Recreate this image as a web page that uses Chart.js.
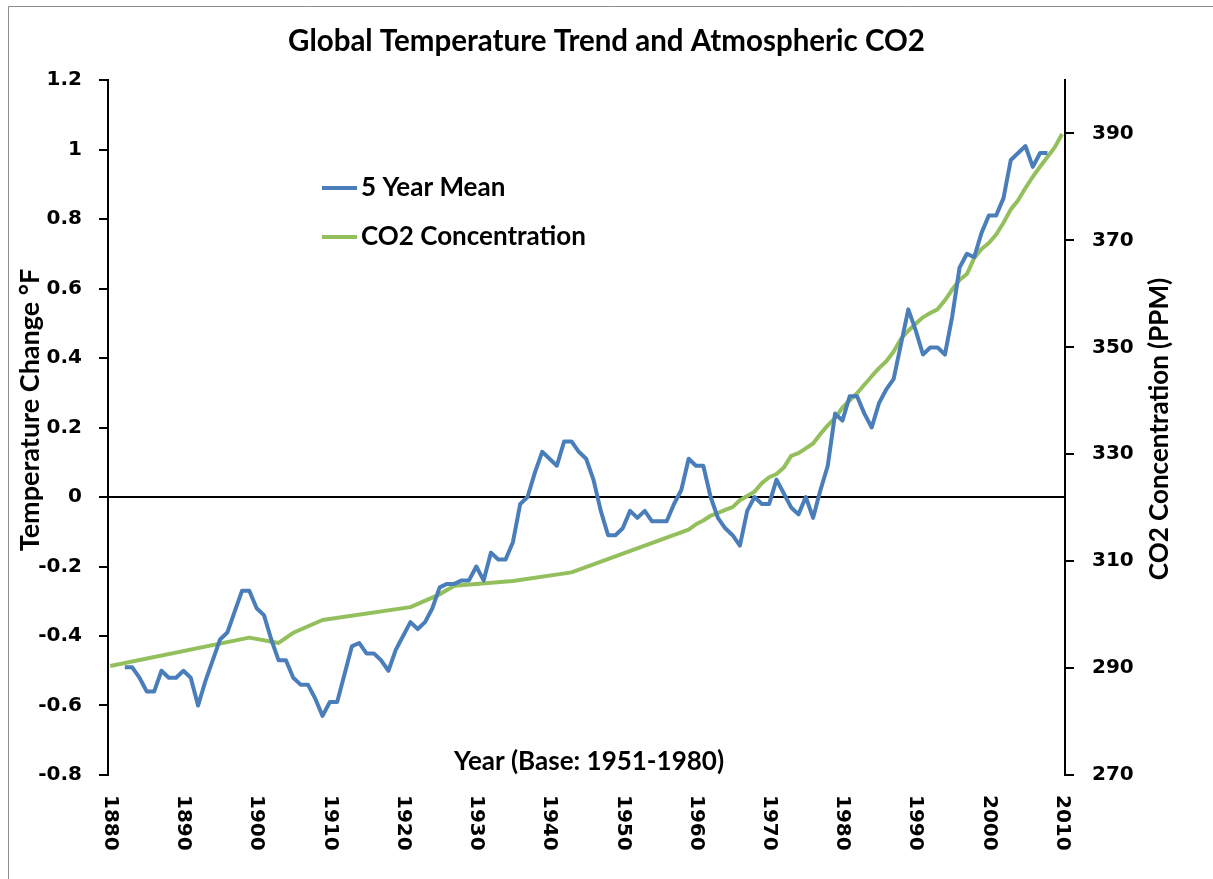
<!DOCTYPE html>
<html>
<head>
<meta charset="utf-8">
<script src="https://cdn.jsdelivr.net/npm/chart.js@4.4.0/dist/chart.umd.min.js"></script>
<style>
	html, body { margin: 0; padding: 0; background: #fff; }
</style>
</head>
<body>
<canvas id="main-chart" width="1213" height="879"></canvas>
<script>
// texts
const titleText = 'Global Temperature Trend and Atmospheric CO2';
const tempLabel = '5 Year Mean';
const co2Label = 'CO2 Concentration';
const xTitle = 'Year (Base: 1951-1980)';
const yTitle = 'Temperature Change °F';
const y2Title = 'CO2 Concentration (PPM)';

// tick labels
const xTicks = [1880, 1890, 1900, 1910, 1920, 1930, 1940, 1950, 1960, 1970, 1980, 1990, 2000, 2010];
const tempTicks = [-0.8, -0.6, -0.4, -0.2, 0, 0.2, 0.4, 0.6, 0.8, 1, 1.2];
const co2Ticks = [270, 290, 310, 330, 350, 370, 390];

// 5 year mean temperature change
const tempYears = [
	1882, 1883, 1884, 1885, 1886, 1887, 1888, 1889,
	1890, 1891, 1892, 1893, 1894, 1895, 1896, 1897, 1898, 1899,
	1900, 1901, 1902, 1903, 1904, 1905, 1906, 1907, 1908, 1909,
	1910, 1911, 1912, 1913, 1914, 1915, 1916, 1917, 1918, 1919,
	1920, 1921, 1922, 1923, 1924, 1925, 1926, 1927, 1928, 1929,
	1930, 1931, 1932, 1933, 1934, 1935, 1936, 1937, 1938, 1939,
	1940, 1941, 1942, 1943, 1944, 1945, 1946, 1947, 1948, 1949,
	1950, 1951, 1952, 1953, 1954, 1955, 1956, 1957, 1958, 1959,
	1960, 1961, 1962, 1963, 1964, 1965, 1966, 1967, 1968, 1969,
	1970, 1971, 1972, 1973, 1974, 1975, 1976, 1977, 1978, 1979,
	1980, 1981, 1982, 1983, 1984, 1985, 1986, 1987, 1988, 1989,
	1990, 1991, 1992, 1993, 1994, 1995, 1996, 1997, 1998, 1999,
	2000, 2001, 2002, 2003, 2004, 2005, 2006, 2007, 2008
];
const tempValues = [
	-0.49, -0.49, -0.52, -0.56, -0.56, -0.50, -0.52, -0.52,
	-0.50, -0.52, -0.60, -0.53, -0.47, -0.41, -0.39, -0.33, -0.27, -0.27,
	-0.32, -0.34, -0.41, -0.47, -0.47, -0.52, -0.54, -0.54, -0.58, -0.63,
	-0.59, -0.59, -0.51, -0.43, -0.42, -0.45, -0.45, -0.47, -0.50, -0.44,
	-0.40, -0.36, -0.38, -0.36, -0.32, -0.26, -0.25, -0.25, -0.24, -0.24,
	-0.20, -0.24, -0.16, -0.18, -0.18, -0.13, -0.02, 0.00, 0.07, 0.13,
	0.11, 0.09, 0.16, 0.16, 0.13, 0.11, 0.05, -0.04, -0.11, -0.11,
	-0.09, -0.04, -0.06, -0.04, -0.07, -0.07, -0.07, -0.02, 0.02, 0.11,
	0.09, 0.09, 0.00, -0.06, -0.09, -0.11, -0.14, -0.04, 0.00, -0.02,
	-0.02, 0.05, 0.01, -0.03, -0.05, 0.00, -0.06, 0.02, 0.09, 0.24,
	0.22, 0.29, 0.29, 0.24, 0.20, 0.27, 0.31, 0.34, 0.44, 0.54,
	0.48, 0.41, 0.43, 0.43, 0.41, 0.52, 0.66, 0.70, 0.69, 0.76,
	0.81, 0.81, 0.86, 0.97, 0.99, 1.01, 0.95, 0.99, 0.99
];

// CO2 concentration (ppm)
const co2Years = [
	1880, 1899, 1903, 1905, 1909, 1921, 1925, 1927, 1935, 1943,
	1959, 1960, 1961, 1962, 1963, 1964, 1965, 1966, 1967, 1968, 1969,
	1970, 1971, 1972, 1973, 1974, 1975, 1976, 1977, 1978, 1979,
	1980, 1981, 1982, 1983, 1984, 1985, 1986, 1987, 1988, 1989,
	1990, 1991, 1992, 1993, 1994, 1995, 1996, 1997, 1998, 1999,
	2000, 2001, 2002, 2003, 2004, 2005, 2006, 2007, 2008, 2009, 2010
];
const co2Values = [
	290.4, 295.7, 294.7, 296.6, 299.0, 301.4, 303.8, 305.4, 306.3, 307.9,
	315.9, 316.9, 317.6, 318.5, 319.0, 319.6, 320.1, 321.4, 322.2, 323.0, 324.6,
	325.7, 326.3, 327.5, 329.7, 330.2, 331.1, 332.0, 333.8, 335.4, 336.8,
	338.7, 340.1, 341.4, 343.0, 344.6, 346.1, 347.4, 349.2, 351.6, 353.1,
	354.4, 355.6, 356.4, 357.1, 358.8, 360.8, 362.6, 363.7, 366.7, 368.4,
	369.5, 371.1, 373.3, 375.8, 377.5, 379.8, 381.9, 383.8, 385.6, 387.4, 389.9
];

const blue = '#4a7ebb';
const green = '#93bf5c';
const calibri = '"Lato", "Open Sans", sans-serif';

Chart.defaults.font.family = '"DejaVu Sans", sans-serif';
Chart.defaults.color = '#000';

// legend, rotated year labels and titles that chart.js can't place like excel does
const extras = {
	id: 'extras',
	afterDraw(chart) {
		const ctx = chart.ctx;
		const area = chart.chartArea;
		const xs = chart.scales.x;
		ctx.save();

		// outer frame
		ctx.strokeStyle = '#8c8c8c';
		ctx.lineWidth = 1;
		ctx.beginPath();
		ctx.moveTo(8.5, 879);
		ctx.lineTo(8.5, 6.5);
		ctx.lineTo(1213, 6.5);
		ctx.stroke();

		ctx.fillStyle = '#000';

		// year labels, reading downwards
		ctx.font = 'bold 20px "DejaVu Sans"';
		ctx.textAlign = 'left';
		ctx.textBaseline = 'middle';
		xTicks.forEach(v => {
			ctx.save();
			ctx.translate(xs.getPixelForValue(v), area.bottom + 20);
			ctx.rotate(Math.PI / 2);
			ctx.fillText(String(v), 0, 0);
			ctx.restore();
		});

		ctx.font = 'bold 26px ' + calibri;
		ctx.textAlign = 'center';
		ctx.fillText(xTitle, 589, area.bottom - 13);

		ctx.save();
		ctx.font = 'bold 27px ' + calibri;
		ctx.translate(30, 410);
		ctx.rotate(-Math.PI / 2);
		ctx.fillText(yTitle, 0, 0);
		ctx.restore();

		ctx.save();
		ctx.translate(1160, 429);
		ctx.rotate(-Math.PI / 2);
		ctx.fillText(y2Title, 0, 0);
		ctx.restore();

		// legend
		const items = [[tempLabel, blue, 188], [co2Label, green, 237]];
		ctx.textAlign = 'left';
		items.forEach(([label, color, y]) => {
			ctx.strokeStyle = color;
			ctx.lineWidth = 4;
			ctx.beginPath();
			ctx.moveTo(322, y);
			ctx.lineTo(357, y);
			ctx.stroke();
			ctx.fillText(label, 361, y);
		});

		ctx.restore();
	}
};

var ctx = document.getElementById('main-chart');
new Chart(ctx, {
	type: 'line',
	data: {
		datasets: [
			{
				label: tempLabel,
				data: tempYears.map((yr, i) => ({ x: yr, y: tempValues[i] })),
				yAxisID: 'y',
				borderColor: blue,
				borderWidth: 4,
				borderJoinStyle: 'round',
				pointRadius: 0,
				tension: 0
			},
			{
				label: co2Label,
				data: co2Years.map((yr, i) => ({ x: yr, y: co2Values[i] })),
				yAxisID: 'y2',
				borderColor: green,
				borderWidth: 4,
				borderJoinStyle: 'round',
				pointRadius: 0,
				tension: 0
			}
		]
	},
	options: {
		responsive: false,
		animation: false,
		devicePixelRatio: 1,
		layout: { padding: 0 },
		plugins: {
			legend: { display: false },
			tooltip: { enabled: false },
			title: {
				display: true,
				text: titleText,
				color: '#000',
				font: { family: calibri, size: 29.5, weight: 'bold', lineHeight: 1.2 },
				padding: { top: 24, bottom: 20.6 }
			}
		},
		scales: {
			x: {
				type: 'linear',
				min: 1879.7,
				max: 2010.4,
				afterBuildTicks: s => { s.ticks = xTicks.map(v => ({ value: v })); },
				afterFit: s => { s.height = 104; },
				grid: { display: false },
				border: { display: false },
				ticks: { display: false }
			},
			y: {
				position: 'left',
				min: -0.8,
				max: 1.2,
				afterBuildTicks: s => { s.ticks = tempTicks.map(v => ({ value: v })); },
				afterFit: s => { s.width = 108; },
				border: { display: true, color: '#000', width: 2 },
				grid: {
					color: c => (c.tick && c.tick.value === 0) ? '#000' : 'rgba(0,0,0,0)',
					lineWidth: 2,
					tickColor: '#000',
					tickLength: 9
				},
				ticks: {
					font: { size: 20, weight: 'bold' },
					color: '#000',
					padding: 17,
					callback: v => String(v)
				}
			},
			y2: {
				position: 'right',
				min: 270,
				max: 400,
				afterBuildTicks: s => { s.ticks = co2Ticks.map(v => ({ value: v })); },
				afterFit: s => { s.width = 148; },
				border: { display: true, color: '#000', width: 2 },
				grid: {
					drawOnChartArea: false,
					lineWidth: 2,
					tickColor: '#000',
					tickLength: 9
				},
				ticks: {
					font: { size: 20, weight: 'bold' },
					color: '#000',
					padding: 18,
					callback: v => String(v)
				}
			}
		}
	},
	plugins: [extras]
});
</script>
</body>
</html>
